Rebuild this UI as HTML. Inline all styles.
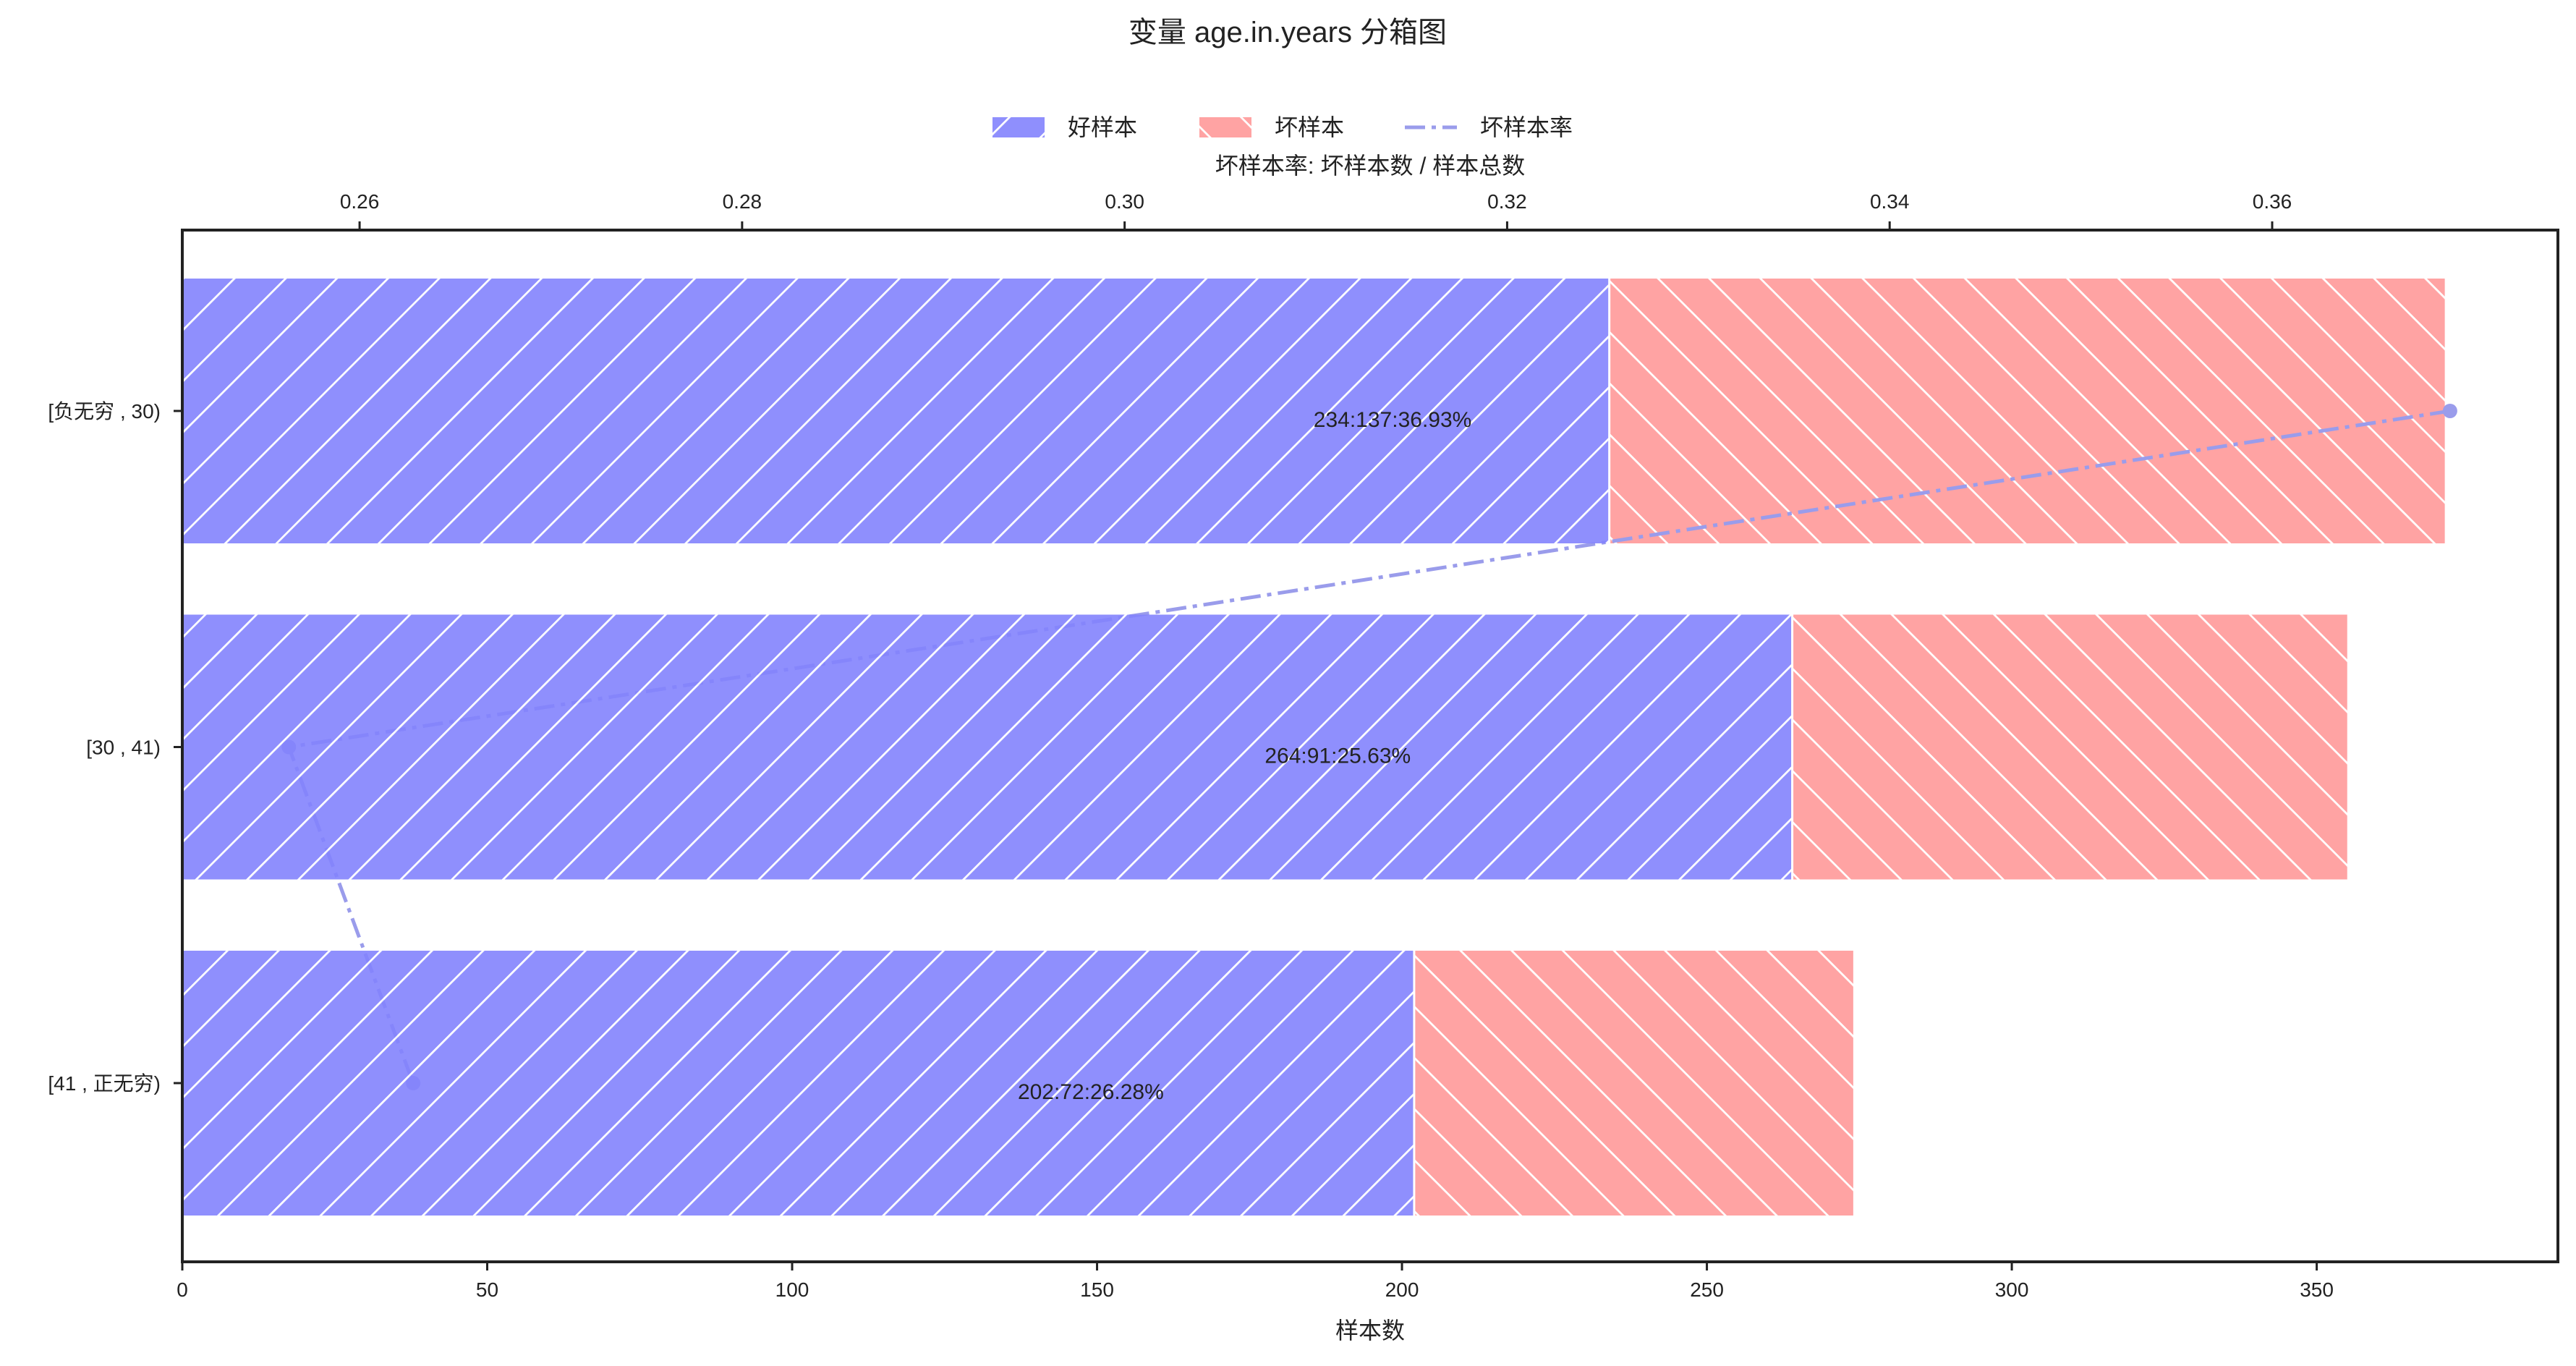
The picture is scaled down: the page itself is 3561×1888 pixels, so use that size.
<!DOCTYPE html>
<html><head><meta charset="utf-8"><style>
body{margin:0;background:#fff}
svg text{font-family:"Liberation Sans","Noto Sans CJK SC",sans-serif;fill:#222}
</style></head><body>
<svg id="chart" width="3561" height="1883" viewBox="0 0 3561 1883" xmlns="http://www.w3.org/2000/svg">
<defs>
<pattern id="hB" patternUnits="userSpaceOnUse" width="50" height="50" patternTransform="rotate(-45)">
<rect width="50" height="50" fill="rgb(131,131,253)"/>
<line x1="0" y1="1" x2="50" y2="1" stroke="#fff" stroke-width="3.5"/>
</pattern>
<pattern id="hR" patternUnits="userSpaceOnUse" width="50" height="50" patternTransform="rotate(45)">
<rect width="50" height="50" fill="#ffa3a3"/>
<line x1="0" y1="1" x2="50" y2="1" stroke="#fff" stroke-width="3.5"/>
</pattern>
</defs>
<g id="plot"></g>
</svg>
<script>
const categories = ["[负无穷 , 30)", "[30 , 41)", "[41 , 正无穷)"];
const goodCounts = [234, 264, 202];
const badCounts = [137, 91, 72];
const badRates = [0.3693, 0.2563, 0.2628];
const xTicks = [0, 50, 100, 150, 200, 250, 300, 350];
const rateTicks = [0.26, 0.28, 0.30, 0.32, 0.34, 0.36];

const L = 252, R = 3536, T = 318, B = 1744;
const xMax = 389.55, rMin = 0.25073, rMax = 0.37494;
const xs = v => L + v / xMax * (R - L);
const xr = v => L + (v - rMin) / (rMax - rMin) * (R - L);
const yc = i => 568 + i * 464.5;
const barH = 366;
const NS = "http://www.w3.org/2000/svg";
const g = document.getElementById('plot');
function mk(tag, attrs, parent) {
  const e = document.createElementNS(NS, tag);
  for (const k in attrs) e.setAttribute(k, attrs[k]);
  (parent || g).appendChild(e);
  return e;
}
function txt(x, y, s, size, anchor, parent) {
  const t = mk('text', {x: x, y: y, 'font-size': size, 'text-anchor': anchor || 'middle'}, parent);
  t.textContent = s;
  return t;
}
categories.forEach((c, i) => {
  const r = mk('rect', {x: xs(goodCounts[i]), y: yc(i) - barH / 2, width: xs(goodCounts[i] + badCounts[i]) - xs(goodCounts[i]), height: barH, fill: 'url(#hR)'});
  
  
});
const pts = badRates.map((v, i) => xr(v) + ',' + yc(i)).join(' ');
const line = mk('polyline', {points: pts, fill: 'none', stroke: '#9a9ceb', 'stroke-width': 5, 'stroke-dasharray': '28,9,6,9'});


badRates.forEach((v, i) => {
  const m = mk('circle', {cx: xr(v), cy: yc(i), r: 10, fill: '#9a9ceb'});
  
  
});
categories.forEach((c, i) => {
  const r = mk('rect', {x: xs(0), y: yc(i) - barH / 2, width: xs(goodCounts[i]) - xs(0), height: barH, fill: 'url(#hB)', 'fill-opacity': 0.9});
  
  
  mk('line', {x1: xs(goodCounts[i]), x2: xs(goodCounts[i]), y1: yc(i) - barH / 2, y2: yc(i) + barH / 2, stroke: '#fff', 'stroke-width': 3});
  const tot = goodCounts[i] + badCounts[i];
  const lab = txt(xs(tot / 2), yc(i) + 22, goodCounts[i] + ':' + badCounts[i] + ':' + (badRates[i] * 100).toFixed(2) + '%', 30, 'start');
  
  
  const yl = txt(222, yc(i) + 10, c, 28, 'end');
  
  
  mk('line', {x1: L - 12, x2: L, y1: yc(i), y2: yc(i), stroke: '#222', 'stroke-width': 3});
});
const fr = mk('rect', {x: L, y: T, width: R - L, height: B - T, fill: 'none', stroke: '#222', 'stroke-width': 4});


xTicks.forEach(v => {
  mk('line', {x1: xs(v), x2: xs(v), y1: B, y2: B + 12, stroke: '#222', 'stroke-width': 3});
  const t = txt(xs(v), B + 48, String(v), 28);
  
  
});
rateTicks.forEach(v => {
  mk('line', {x1: xr(v), x2: xr(v), y1: T - 12, y2: T, stroke: '#222', 'stroke-width': 3});
  const t = txt(xr(v), T - 30, v.toFixed(2), 28);
  
  
});
const xl = txt(1894, 1850, '样本数', 32);


const tl = txt(1894, 240, '坏样本率: 坏样本数 / 样本总数', 32);


const ti = txt(1780, 58, '变量 age.in.years 分箱图', 40);


const lg = mk('g', {});


mk('rect', {x: 1372, y: 162, width: 72, height: 28, fill: 'url(#hB)', 'fill-opacity': 0.9}, lg);
txt(1476, 187, '好样本', 32, 'start', lg);
mk('rect', {x: 1658, y: 162, width: 72, height: 28, fill: 'url(#hR)'}, lg);
txt(1762, 187, '坏样本', 32, 'start', lg);
mk('line', {x1: 1942, x2: 2014, y1: 176, y2: 176, stroke: '#9a9ceb', 'stroke-width': 5, 'stroke-dasharray': '28,9,6,9'}, lg);
txt(2046, 187, '坏样本率', 32, 'start', lg);
</script>
</body></html>
